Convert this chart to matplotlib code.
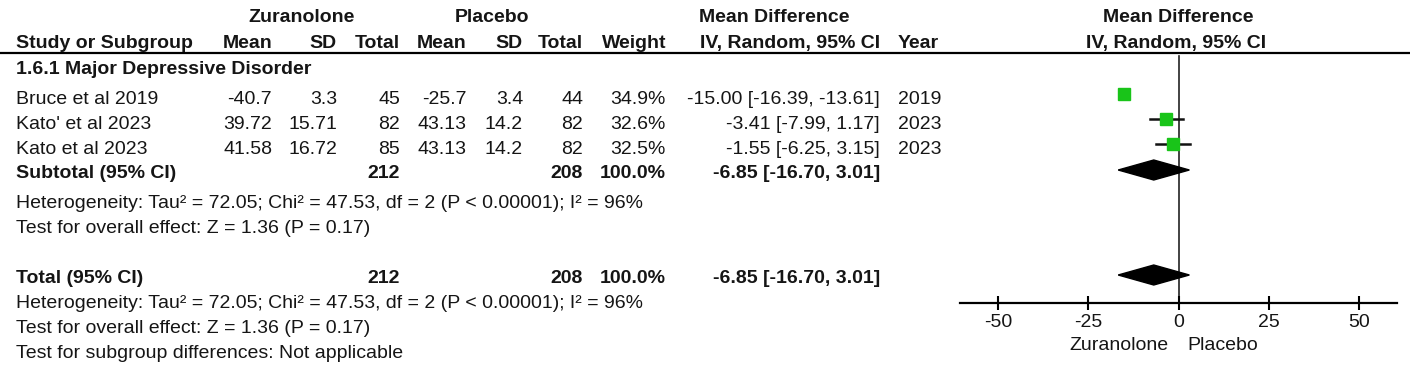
import matplotlib
matplotlib.use("Agg")
import matplotlib.pyplot as plt
from matplotlib.patches import Polygon

plt.rcParams["font.family"] = ["Liberation Sans", "DejaVu Sans"]
plt.rcParams["axes.unicode_minus"] = False

# -------------------------------
# Data
# -------------------------------
studies = ["Bruce et al 2019", "Kato' et al 2023", "Kato et al 2023"]
zur_mean = [-40.7, 39.72, 41.58]
zur_sd = [3.3, 15.71, 16.72]
zur_total = [45, 82, 85]
pla_mean = [-25.7, 43.13, 43.13]
pla_sd = [3.4, 14.2, 14.2]
pla_total = [44, 82, 82]
weights = [34.9, 32.6, 32.5]
md = [-15.00, -3.41, -1.55]
md_lo = [-16.39, -7.99, -6.25]
md_hi = [-13.61, 1.17, 3.15]
years = [2019, 2023, 2023]

sub_zur_total = 212
sub_pla_total = 208
sub_md, sub_lo, sub_hi = -6.85, -16.70, 3.01

subgroup_name = "1.6.1 Major Depressive Disorder"
het_text = "Heterogeneity: Tau\u00b2 = 72.05; Chi\u00b2 = 47.53, df = 2 (P < 0.00001); I\u00b2 = 96%"
effect_text = "Test for overall effect: Z = 1.36 (P = 0.17)"
subgroup_diff_text = "Test for subgroup differences: Not applicable"

xticks = [-50, -25, 0, 25, 50]
left_label = "Zuranolone"
right_label = "Placebo"

# -------------------------------
# Layout (pixels from top-left)
# -------------------------------
W, H = 1417, 371
FS = 14
TXT = "#151515"
GREEN = "#19c419"

col_study = 16
col_zmean, col_zsd, col_ztot = 272, 337, 400
col_pmean, col_psd, col_ptot = 467, 523, 583
col_weight = 666
col_ci = 880
col_year = 898

base_top = 22
base_head = 48
base_group = 74
base_rows = [104, 129, 154]
base_sub = 178
base_het1, base_eff1 = 208, 233
base_tot = 283
base_het2, base_eff2, base_diff = 308, 333, 358

fig = plt.figure(figsize=(W / 100, H / 100), dpi=100)

# table axes in pixel coordinates
tx = fig.add_axes([0, 0, 1, 1])
tx.set_xlim(0, W)
tx.set_ylim(H, 0)
tx.axis("off")


def put(x, y, s, ha="right", bold=False):
    tx.text(x, y, s, ha=ha, va="baseline", fontsize=FS, color=TXT,
            fontweight="bold" if bold else "normal")


# column headers
put(302, base_top, "Zuranolone", ha="center", bold=True)
put(492, base_top, "Placebo", ha="center", bold=True)
put(774, base_top, "Mean Difference", ha="center", bold=True)
put(1178, base_top, "Mean Difference", ha="center", bold=True)

put(col_study, base_head, "Study or Subgroup", ha="left", bold=True)
put(col_zmean, base_head, "Mean", bold=True)
put(col_zsd, base_head, "SD", bold=True)
put(col_ztot, base_head, "Total", bold=True)
put(col_pmean, base_head, "Mean", bold=True)
put(col_psd, base_head, "SD", bold=True)
put(col_ptot, base_head, "Total", bold=True)
put(col_weight, base_head, "Weight", bold=True)
put(col_ci, base_head, "IV, Random, 95% CI", bold=True)
put(col_year, base_head, "Year", ha="left", bold=True)
put(1176, base_head, "IV, Random, 95% CI", ha="center", bold=True)

tx.plot([0, 1410], [52.5, 52.5], color="black", lw=1.6, solid_capstyle="butt")

put(col_study, base_group, subgroup_name, ha="left", bold=True)

# study rows
for i, name in enumerate(studies):
    y = base_rows[i]
    put(col_study, y, name, ha="left")
    put(col_zmean, y, str(zur_mean[i]))
    put(col_zsd, y, str(zur_sd[i]))
    put(col_ztot, y, str(zur_total[i]))
    put(col_pmean, y, str(pla_mean[i]))
    put(col_psd, y, str(pla_sd[i]))
    put(col_ptot, y, str(pla_total[i]))
    put(col_weight, y, f"{weights[i]:.1f}%")
    put(col_ci, y, f"{md[i]:.2f} [{md_lo[i]:.2f}, {md_hi[i]:.2f}]")
    put(col_year, y, str(years[i]), ha="left")

ci_sum = f"{sub_md:.2f} [{sub_lo:.2f}, {sub_hi:.2f}]"
w_sum = f"{sum(weights):.1f}%"

# subtotal
put(col_study, base_sub, "Subtotal (95% CI)", ha="left", bold=True)
put(col_ztot, base_sub, str(sub_zur_total), bold=True)
put(col_ptot, base_sub, str(sub_pla_total), bold=True)
put(col_weight, base_sub, w_sum, bold=True)
put(col_ci, base_sub, ci_sum, bold=True)
put(col_study, base_het1, het_text, ha="left")
put(col_study, base_eff1, effect_text, ha="left")

# total
put(col_study, base_tot, "Total (95% CI)", ha="left", bold=True)
put(col_ztot, base_tot, str(sub_zur_total), bold=True)
put(col_ptot, base_tot, str(sub_pla_total), bold=True)
put(col_weight, base_tot, w_sum, bold=True)
put(col_ci, base_tot, ci_sum, bold=True)
put(col_study, base_het2, het_text, ha="left")
put(col_study, base_eff2, effect_text, ha="left")
put(col_study, base_diff, subgroup_diff_text, ha="left")

# axis side labels
put(1168, 350, left_label, ha="right")
put(1187, 350, right_label, ha="left")

# -------------------------------
# Forest plot axes
# -------------------------------
ax_left, ax_right = 960, 1397
ax_top, ax_bottom = 50, 303
ax = fig.add_axes([ax_left / W, (H - ax_bottom) / H,
                   (ax_right - ax_left) / W, (ax_bottom - ax_top) / H])
ax.set_facecolor("none")
ax.set_xlim(-60.5, 60.5)
ax.set_ylim(ax_bottom, ax_top)
for side in ["top", "left", "right"]:
    ax.spines[side].set_visible(False)
ax.spines["bottom"].set_linewidth(1.6)
ax.set_yticks([])
ax.set_xticks(xticks)
ax.set_xticklabels([str(t) for t in xticks])
ax.tick_params(axis="x", direction="inout", length=10, width=1.5,
               pad=3, labelsize=FS, labelcolor=TXT)

# line of no effect
ax.plot([0, 0], [56, ax_bottom], color="#222222", lw=1.2, zorder=1)

# study estimates
for i in range(len(studies)):
    y = base_rows[i] - 10
    ax.plot([md_lo[i], md_hi[i]], [y, y], color="#111111", lw=1.8, zorder=2)
    side_pt = 0.37 * weights[i] * 0.72
    ax.plot(md[i], y, marker="s", ms=side_pt, color=GREEN, mec=GREEN,
            zorder=3)

# pooled diamonds
for base in [base_sub, base_tot]:
    yc = base - 8
    half = 10
    diamond = Polygon([(sub_lo, yc), (sub_md, yc - half), (sub_hi, yc),
                       (sub_md, yc + half)], closed=True, color="black",
                      zorder=4)
    ax.add_patch(diamond)

fig.savefig("out.png", dpi=100)
